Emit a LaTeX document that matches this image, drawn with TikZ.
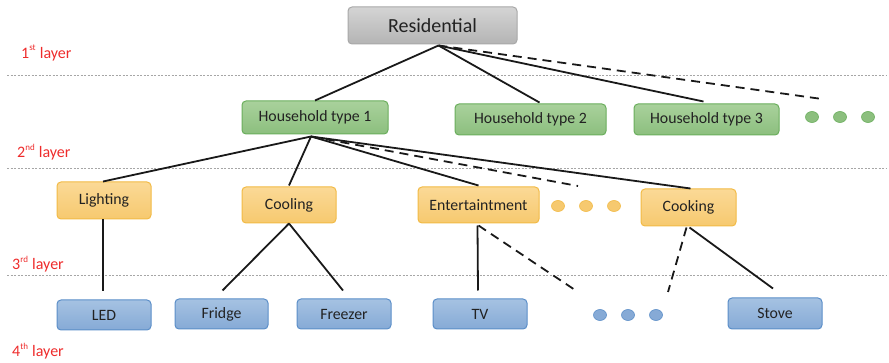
\documentclass[tikz,border=0pt]{standalone}
\usepackage{fontspec}
\setmainfont{Carlito}
\usetikzlibrary{shapes.geometric}
\definecolor{txt}{HTML}{222222}
\definecolor{layred}{HTML}{EE2B2B}
\definecolor{grayT}{HTML}{D4D4D4}\definecolor{grayB}{HTML}{B4B4B4}\definecolor{grayD}{HTML}{A8A8A8}
\definecolor{grnT}{HTML}{A9D19C}\definecolor{grnB}{HTML}{8CBF7E}\definecolor{grnD}{HTML}{6AAE5C}
\definecolor{orT}{HTML}{FBD996}\definecolor{orB}{HTML}{F6C96F}\definecolor{orD}{HTML}{F2BA45}
\definecolor{blT}{HTML}{A5C2E2}\definecolor{blB}{HTML}{86AAD6}\definecolor{blD}{HTML}{5B8EC8}
\tikzset{
  box/.style={draw, line width=1pt, rounded corners=4pt, inner sep=0pt, text=txt, font=\fontsize{15.8}{18}\selectfont},
  graybox/.style={box, top color=grayT, bottom color=grayB, draw=grayD, font=\fontsize{20}{24}\selectfont},
  grnbox/.style={box, top color=grnT, bottom color=grnB, draw=grnD},
  orbox/.style={box, top color=orT, bottom color=orB, draw=orD},
  blbox/.style={box, top color=blT, bottom color=blB, draw=blD},
  dotg/.style={ellipse, draw=grnD, fill=grnB, line width=0.6pt, minimum width=13pt, minimum height=11pt, inner sep=0pt},
  doto/.style={ellipse, draw=orD, fill=orB, line width=0.6pt, minimum width=13pt, minimum height=11pt, inner sep=0pt},
  dotb/.style={ellipse, draw=blD, fill=blB, line width=0.6pt, minimum width=13pt, minimum height=11pt, inner sep=0pt},
  conn/.style={line width=1.8pt, draw=black!90},
  dconn/.style={conn, dash pattern=on 9pt off 6pt},
  sep/.style={draw=black!35, line width=0.7pt, dash pattern=on 2pt off 1.5pt},
  lay/.style={text=layred, anchor=west, inner sep=0pt, font=\fontsize{16}{18}\selectfont}
}
\begin{document}
\begin{tikzpicture}[x=1pt,y=-1pt]
\useasboundingbox (0,0) rectangle (889,363);
% layer separators
\coordinate (s1a) at (7,75);  \coordinate (s1b) at (886,75);
\coordinate (s2a) at (7,168); \coordinate (s2b) at (886,168);
\coordinate (s3a) at (7,275); \coordinate (s3b) at (886,275);
\draw[sep] (s1a) -- (s1b);
\draw[sep] (s2a) -- (s2b);
\draw[sep] (s3a) -- (s3b);
% layer labels
\node[lay] (l1) at (21,53) {1\raisebox{1pt}{\textsuperscript{\fontsize{9}{10}\selectfont st}} layer};
\node[lay] (l2) at (17,152) {2\raisebox{1pt}{\textsuperscript{\fontsize{9}{10}\selectfont nd}} layer};
\node[lay] (l3) at (12,264) {3\raisebox{1pt}{\textsuperscript{\fontsize{9}{10}\selectfont rd}} layer};
\node[lay] (l4) at (12,351) {4\raisebox{1pt}{\textsuperscript{\fontsize{9}{10}\selectfont th}} layer};
% nodes
\node[graybox, minimum width=169pt, minimum height=37pt] (res) at (432.5,25.5) {Residential};
\node[grnbox, minimum width=146pt, minimum height=33pt] (ht1) at (315,117.5) {Household type 1};
\node[grnbox, minimum width=151pt, minimum height=31pt] (ht2) at (530.5,119.5) {Household type 2};
\node[grnbox, minimum width=145pt, minimum height=31pt] (ht3) at (706.5,119.5) {Household type 3};
\node[dotg] (g1) at (812,117) {};
\node[dotg] (g2) at (840,117) {};
\node[dotg] (g3) at (868,117) {};
\node[orbox, minimum width=94pt, minimum height=37pt] (light) at (104,200.5) {Lighting};
\node[orbox, minimum width=94pt, minimum height=36pt] (cool) at (289,205) {Cooling};
\node[orbox, minimum width=121pt, minimum height=36pt] (ent) at (478.5,205) {Entertaintment};
\node[doto] (o1) at (558,206) {};
\node[doto] (o2) at (586,206) {};
\node[doto] (o3) at (614,206) {};
\node[orbox, minimum width=95pt, minimum height=37pt] (cook) at (688.5,207.5) {Cooking};
\node[blbox, minimum width=94pt, minimum height=30pt] (led) at (104,315) {LED};
\node[blbox, minimum width=93pt, minimum height=30pt] (fridge) at (221.5,314) {Fridge};
\node[blbox, minimum width=94pt, minimum height=30pt] (freezer) at (344,314) {Freezer};
\node[blbox, minimum width=94pt, minimum height=30pt] (tv) at (480,314) {TV};
\node[dotb] (b1) at (600,315) {};
\node[dotb] (b2) at (628,315) {};
\node[dotb] (b3) at (656,315) {};
\node[blbox, minimum width=94pt, minimum height=31pt] (stove) at (775,313.5) {Stove};
% free ends
\coordinate (rdash) at (822,99);
\coordinate (hdash) at (578,186);
\coordinate (edash) at (575,290);
\coordinate (cdash) at (668,292);
% connectors level 1-2
\coordinate (rs) at ([xshift=6pt,yshift=-1pt]res.south);
\draw[conn] (rs) -- (ht1.north);
\draw[conn] (rs) -- ([xshift=9pt,yshift=1pt]ht2.north);
\draw[conn] (rs) -- ([xshift=-3pt,yshift=2pt]ht3.north);
\draw[dconn] (rs) -- (rdash);
% level 2-3
\coordinate (hs) at ([xshift=-4pt,yshift=-2pt]ht1.south);
\draw[conn] (hs) -- ([xshift=-1pt]light.north);
\draw[conn] (hs) -- ([yshift=1pt]cool.north);
\draw[conn] (hs) -- ([yshift=1pt]ent.north);
\draw[dconn] (hs) -- (hdash);
\draw[conn] (hs) -- ([xshift=2pt]cook.north);
% level 3-4
\draw[conn] ([xshift=-1pt]light.south) -- ([xshift=-1pt,yshift=8pt]led.north);
\draw[conn] (cool.south) -- ([xshift=1pt,yshift=8pt]fridge.north);
\draw[conn] (cool.south) -- ([xshift=-1pt,yshift=8pt]freezer.north);
\draw[conn] ([xshift=-1pt,yshift=-2pt]ent.south) -- ([xshift=-2pt,yshift=8pt]tv.north);
\draw[dconn] ([yshift=-2pt]ent.south) -- (edash);
\draw[dconn] ([xshift=-2pt,yshift=-1pt]cook.south) -- (cdash);
\draw[conn] ([xshift=1pt,yshift=-1pt]cook.south) -- ([xshift=-2pt,yshift=9pt]stove.north);
\end{tikzpicture}
\end{document}
